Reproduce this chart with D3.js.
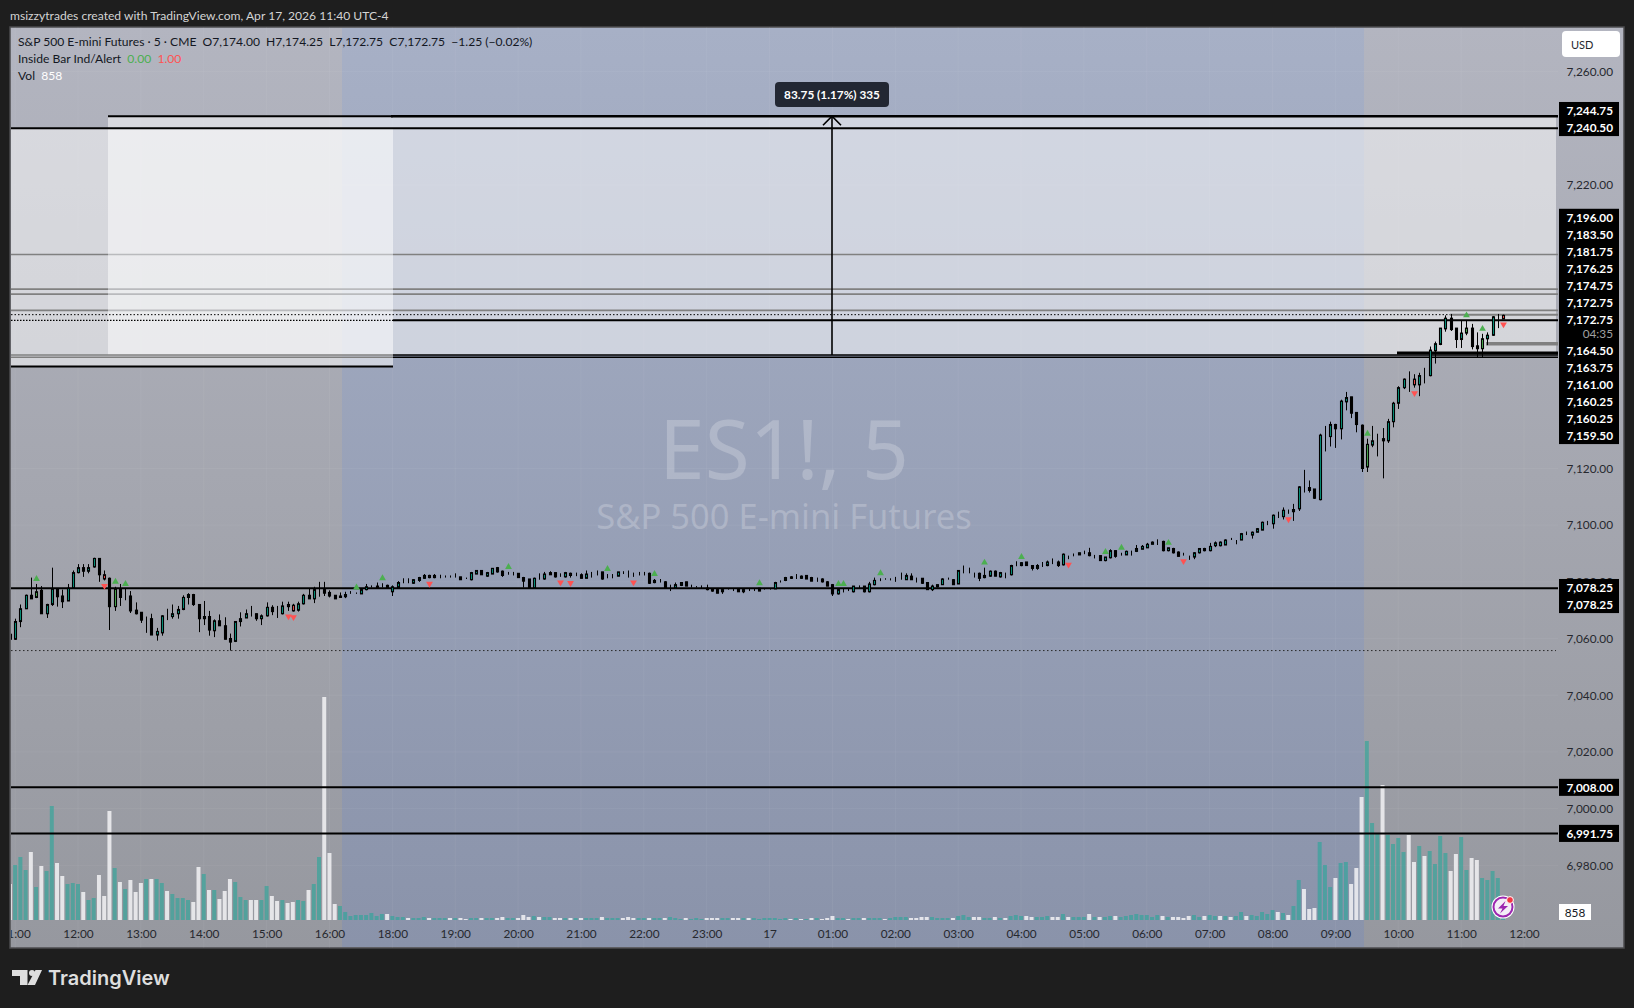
<!DOCTYPE html>
<html>
<head>
<meta charset="utf-8">
<title>ES1! 5</title>
<script src="https://cdn.jsdelivr.net/npm/d3@7"></script>
<style>
  html, body { margin: 0; padding: 0; background: #1e1e1e; overflow: hidden; }
  svg { display: block; font-family: Lato, sans-serif; }
</style>
</head>
<body>
<div id="chart"></div>
<script>
// bars run from 11:00 + 5min to 11:40 next day, one every 5 minutes
const firstBar = -13; // index of first bar, 0 is the 12:00 bar

const opens = [
  7061.5,7059.75,7066,7070.5,7075.25,7074.5,7077,7068.75,7072,7077.5,
  7075,7073.25,7077.75,7083.25,7085,7083.75,7085.25,7088.25,7081,7081.25,
  7071.25,7077.5,7074.75,7075,7070,7069.25,7067.25,7067,7061.25,7062,
  7067.75,7067.75,7068.75,7070.25,7074.5,7075.5,7072,7067,7067.75,7062.75,
  7066.25,7064.5,7060,7059,7066,7067.25,7068.75,7068.75,7067,7068,
  7071,7069.5,7068.75,7071.25,7069.75,7070,7072.25,7075.25,7074,7077.25,
  7077.25,7076.25,7075.25,7075,7074.75,7075.75,7076,7075.75,7077.25,7078.25,
  7078.5,7078.75,7078.75,7076.5,7078,7079.75,7080.25,7079.5,7080.5,7081.25,
  7081.5,7081.5,7082,7081.75,7081.75,7082,7081.75,7081.25,7080.75,7082.75,
  7084,7082,7082.75,7085,7083.75,7082.5,7083,7083,7081.5,7081,
  7077.75,7081.75,7081,7083.25,7083.25,7082,7081.75,7082.25,7082.5,7082.5,
  7081.25,7082.75,7083.25,7083.5,7082,7082,7082,7083.25,7083,7082.5,
  7083,7082.75,7083,7079.75,7080.25,7080,7077.75,7077.75,7078.75,7080,
  7078.25,7078.25,7077.75,7077.75,7077.5,7077.25,7076.5,7077.5,7077.25,7077.5,
  7076.5,7077,7077.25,7077.75,7077.5,7077.25,7077.5,7080.5,7080.5,7081.75,
  7081.75,7081.25,7082.25,7081.5,7080.75,7081,7080,7079,7075.75,7077,
  7077.25,7076.5,7078.25,7078.5,7076.5,7079,7080.75,7081,7080.75,7080.75,
  7081,7080.75,7082,7081.5,7081.25,7079.75,7077.25,7078.25,7079,7081,
  7080.75,7079.25,7083.5,7083.5,7083.25,7083,7081.5,7082,7083.75,7081.75,
  7083.25,7082.5,7085.75,7085.75,7087,7085.75,7084.75,7085.75,7085.75,7087,
  7087,7086,7089.25,7089.5,7089.5,7090.25,7090.25,7089,7089.25,7087.5,
  7088.5,7091,7089.75,7089.5,7091,7090.75,7091.5,7092,7093.25,7094,
  7094.25,7091,7091.75,7090.5,7089.75,7089.25,7088.75,7090.25,7091.75,7091,
  7092.75,7092.75,7093,7095,7094.75,7094.75,7097.25,7096.5,7097.5,7098.25,
  7101,7100.5,7103,7103,7105,7104.75,7105.75,7113.5,7113.25,7112.75,
  7109,7131.5,7131.25,7135.5,7134,7143.5,7145.25,7139.75,7135.25,7120.5,
  7128.25,7130,7130.5,7129.75,7136.5,7143,7148.5,7151.5,7149.5,7149.5,
  7153,7152.75,7161.5,7163.75,7169.25,7173,7169.5,7165.5,7167.75,7169.5,
  7163.25,7162.25,7165.75,7167,7173.5,7174
];
const highs = [
  7061.5,7067,7072,7075.5,7081.5,7079.25,7078.5,7072.25,7085,7077.5,
  7077.25,7079.25,7084,7086.25,7086.25,7086.25,7088.5,7088.25,7084,7081.5,
  7078.25,7079.25,7077.5,7076.75,7072.75,7069.25,7067.75,7068.75,7063.75,7068.25,
  7070.5,7072,7071.5,7075.25,7076,7075.75,7072,7073.25,7069.75,7066.75,
  7068.5,7067.5,7061.75,7066,7069.25,7070.25,7071.5,7068.75,7068.5,7072.75,
  7071.75,7071.5,7073,7073,7072.25,7073,7075.75,7077.5,7078.25,7080,
  7080,7077,7075.25,7076.25,7076.5,7076.75,7076.25,7077.5,7079.25,7078.75,
  7079.75,7079.5,7079,7078.75,7080.25,7081.25,7081.25,7081,7081.75,7082.75,
  7082.5,7082.75,7082.5,7082.25,7082.25,7083,7081.75,7081.5,7083.5,7084,
  7084,7083.5,7084.75,7085.25,7084,7083.5,7083.5,7083,7081.75,7081,
  7081.5,7083,7083.5,7083.75,7083.25,7083,7083.5,7083.25,7083.25,7083,
  7084,7083.5,7084,7083.5,7082.75,7082.75,7083.5,7083.75,7084,7083.25,
  7083.5,7083.5,7083.25,7081,7081,7080.25,7079,7079.75,7079.75,7080,
  7079,7078.5,7078.75,7079,7077.75,7077.25,7077.75,7077.75,7077.75,7077.75,
  7077.5,7077.75,7077.75,7077.75,7077.5,7077.5,7080,7080.5,7081.75,7082,
  7082.75,7082.25,7082.25,7081.75,7081.5,7081.25,7080.25,7079.25,7077.5,7077.5,
  7077.5,7078.5,7078.75,7078.5,7080,7081.5,7081.25,7081.25,7081.25,7081.75,
  7083.25,7083,7083,7081.5,7081.25,7079.75,7079,7079,7081.25,7081.5,
  7081,7084,7085.75,7085,7083.25,7083.25,7085,7084,7084,7083.5,
  7083.25,7086,7087.25,7087,7087,7085.75,7086.25,7087,7087.5,7088.25,
  7087.5,7090,7089.25,7090,7090.25,7091,7092,7089.5,7089.25,7088.75,
  7091.5,7091,7090.25,7091,7091,7093,7093,7093.75,7094.25,7095,
  7094.5,7092,7092,7090.75,7090.25,7089.25,7090.5,7091.75,7092,7093.75,
  7094.25,7094.25,7095,7095.5,7094.75,7097.25,7097.75,7097.75,7099,7101.25,
  7101.5,7103.75,7104.75,7106.25,7105.5,7107.5,7113.75,7119.5,7115.75,7112.75,
  7132.25,7135,7136.5,7135.75,7144.25,7147,7145.25,7139.75,7135.5,7130.5,
  7135,7132.25,7134.25,7137.5,7143.5,7149,7151.75,7154.25,7153.25,7153.75,
  7155.5,7163,7164.75,7169.5,7174,7174.5,7169.5,7172.25,7172.25,7171,
  7168,7167.5,7168,7173.75,7174.5,7174.25
];
const lows = [
  7056.5,7059.5,7064,7070.5,7074,7074.25,7068.75,7067.25,7071.5,7071.25,
  7070.75,7073.25,7077.75,7083,7081.75,7083,7085,7080,7080.5,7063,
  7069.75,7071.5,7073.5,7069,7068.5,7065.5,7062,7061.25,7059.25,7061,
  7066.5,7067,7067,7070,7072,7071.5,7062.25,7064.75,7061,7060.5,
  7064.5,7059.75,7055.75,7058.75,7064.25,7067.25,7067.75,7066.25,7064.75,7067.75,
  7068.25,7067.25,7068.5,7069.75,7069.5,7069.5,7072,7074,7072.5,7074.75,
  7075,7074.5,7074,7074.5,7074.25,7075.75,7075.75,7075.75,7077,7078,
  7078,7078,7077.75,7075,7078,7079.5,7079.5,7079.25,7080,7081,
  7081.25,7081.25,7081.25,7081.5,7081.5,7081.5,7080.75,7081,7080.5,7082.75,
  7082.5,7081.75,7082.75,7083.25,7081.75,7082.5,7082.25,7081.5,7078,7077.75,
  7077.75,7080.75,7080.75,7082.5,7081.5,7081.75,7081.5,7081.5,7082,7081.25,
  7081.25,7081.5,7082.25,7080.75,7081.25,7081.25,7082,7082.75,7081.5,7081.75,
  7082.25,7082.25,7079.25,7079.5,7079.75,7077.75,7076.75,7077.75,7078.5,7078.5,
  7078,7078,7077.75,7077,7076.5,7076,7075.75,7077.25,7076.75,7076.5,
  7076,7076.75,7076.75,7076.75,7077.25,7077.25,7077.5,7079.75,7080.25,7081,
  7081,7081,7081,7080.25,7080,7079.75,7078.5,7075,7075.5,7076.25,
  7076.75,7076.25,7077.75,7076.25,7076.25,7078.75,7080.25,7080.75,7080.5,7080,
  7080.75,7080.75,7080.75,7079.75,7079.25,7077.25,7076.75,7078,7079,7080.75,
  7079,7079.25,7083,7083,7081.5,7080.25,7081.25,7081.75,7082,7081.5,
  7081.25,7082.25,7085.5,7085.5,7085.75,7084,7084.25,7085.25,7085.5,7086.25,
  7085.25,7085.75,7088,7089,7089.5,7089.75,7089,7088.25,7087.5,7087.25,
  7088.25,7088.5,7089.25,7089.5,7089.25,7090.5,7091.5,7092,7093.25,7093,
  7090.75,7090.75,7090,7089,7089.25,7087.75,7088,7090,7090.75,7090.75,
  7092.25,7092.5,7093,7094.75,7093.25,7094.75,7096.5,7095.25,7097.5,7098.25,
  7100,7098.75,7102.5,7102,7104,7101.5,7105,7111.5,7111.5,7109.25,
  7108.75,7126,7127.75,7127.25,7130.25,7140.5,7137.75,7132.75,7118.75,7118.75,
  7127.5,7124.25,7116.5,7129,7134.5,7141,7148,7147,7148.5,7145.5,
  7150,7152.5,7157,7163.5,7168.25,7168.5,7162.5,7162.5,7167,7162,
  7159,7159.25,7163.5,7166.75,7169.5,7172.75
];
const closes = [
  7059.75,7066,7070.5,7075.25,7074,7076.5,7068.75,7072,7077.5,7074.75,
  7073,7077.75,7083.25,7085,7083.75,7085,7088.25,7082.5,7082.5,7071.25,
  7077.5,7074.5,7074.75,7069.75,7068.75,7066.5,7067.25,7061.25,7062.5,7068,
  7067.75,7068.75,7070.25,7074.5,7075.5,7072,7067,7067.75,7063,7066.25,
  7064.5,7059.75,7058.75,7066,7067,7068.75,7068.75,7067,7068,7071,
  7069.5,7069.5,7071.5,7072,7071.75,7072.25,7075.25,7074,7077.25,7077.25,
  7076,7075,7074,7074.5,7075.5,7075.75,7076,7077.25,7078.25,7078.25,
  7078,7078.75,7078,7078.25,7079.75,7079.75,7080.25,7080.75,7081.5,7082.25,
  7082.25,7082.25,7082,7081.75,7081.75,7082,7080.75,7081.25,7083.25,7084,
  7082.5,7083.25,7084.75,7083.5,7082.25,7082.5,7083,7081.5,7080.25,7077.75,
  7081.25,7081.75,7082.75,7082.5,7081.75,7082,7083.25,7083,7082.5,7081.25,
  7082.75,7082.75,7083.25,7081,7082,7082,7083.5,7083.25,7083,7082.5,
  7083,7082.75,7079.5,7080.5,7080.25,7078,7077.75,7079,7079.75,7078.5,
  7078.25,7078.25,7077.75,7077.25,7076.75,7076,7077.25,7077.5,7077.25,7076.5,
  7077.25,7077,7077.25,7076.75,7077.5,7077.25,7079.75,7080.5,7081.5,7081.25,
  7081.75,7082,7081,7080.25,7080.75,7080,7078.5,7075.75,7077.25,7077,
  7077.25,7078.5,7078.25,7076.5,7079.25,7080.5,7080.75,7081,7080.75,7080.75,
  7081,7082.25,7080.75,7081.5,7079.5,7077.25,7078.5,7079,7081,7081,
  7079,7084,7083.5,7083.5,7083.25,7081.25,7082.25,7083.75,7082,7083.25,
  7083.25,7085.75,7085.75,7086.75,7085.75,7084.75,7085.75,7085.75,7087,7087,
  7085.75,7089.75,7089.25,7089.5,7090.25,7090.25,7089.25,7089,7087.5,7088.75,
  7091,7089,7089.75,7090.75,7091,7091.75,7092.5,7093.25,7094,7094,
  7091,7092,7090.25,7089,7089.75,7089.25,7090.25,7091.75,7091,7092.5,
  7093.75,7094,7094.75,7095,7094.75,7097,7097.25,7097.5,7098.75,7101,
  7101,7103.5,7103,7105.25,7105,7105.5,7113.5,7113.5,7112.25,7109.5,
  7131.75,7131.5,7135.5,7134,7143.75,7145,7139.5,7135.5,7120,7128.5,
  7129.75,7130,7129.75,7136.5,7143,7148.5,7151.5,7151.5,7151.5,7152.75,
  7153,7161.75,7164,7169.5,7173,7169,7165.5,7167.75,7169.5,7163,
  7162.25,7165.75,7167,7173.5,7173.5,7172.75
];
const volumes = [
  3600,5500,6300,5000,6800,3300,5400,4900,11400,5700,
  4400,3600,3700,3600,2800,2000,2200,4500,2400,10900,
  5200,3800,3100,4000,2800,3700,4100,4100,4100,3700,
  2900,2600,2200,2200,2000,1800,5300,4600,3000,3000,
  2100,2900,4100,3800,2300,2000,2000,2000,2000,3400,
  2400,1900,2000,1700,1800,2000,1900,3000,3600,6300,
  22300,6700,1600,1400,800,400,500,500,500,700,
  400,600,600,400,300,300,200,200,200,300,
  200,200,200,200,200,200,200,100,200,200,
  200,200,200,200,300,200,200,200,500,300,
  400,300,300,300,200,200,200,200,200,200,
  200,200,200,300,200,200,200,200,300,200,
  200,200,200,200,200,200,300,200,100,200,
  100,200,100,200,200,200,200,200,200,200,
  200,200,200,100,200,200,200,100,200,100,
  200,100,100,200,200,100,200,400,200,200,
  100,200,200,200,200,200,200,100,200,300,
  300,300,200,200,300,300,300,200,200,200,
  200,400,500,300,300,300,200,200,300,200,
  200,400,500,400,400,300,300,300,400,300,
  300,600,300,300,300,300,600,300,300,300,
  400,400,300,400,500,600,500,500,300,500,
  400,300,300,300,200,400,500,300,400,500,
  400,400,400,300,400,800,400,500,400,800,
  600,1000,800,700,500,1400,4000,3100,1100,1200,
  7800,5500,3300,4200,5700,5800,3600,5200,12300,17900,
  9700,8700,13500,8500,7600,8200,6800,8500,5800,7400,
  6400,6900,5600,8400,6700,4900,6600,8300,5000,6200,
  6000,4200,4000,4900,4200,858
];
// u = teal volume bar, d = white volume bar
const volumeSides = [
  "duuududuud","duuuduuddd","ududdduduu","duuuuddudu","ddduuudduu","ddudduuduu",
  "ddduuuuuuu","uuduuuduuu","duuududduu","duudduuddd","uduuddudud","uuuduuuddd",
  "uuduuduuud","uuuddduudd","uduuuuuuud","udududdduu","duuduuuduu","uudddduuuu",
  "duuudduudu","duuudduuud","duduuududu","uduuuuuuuu","dudddduudu","ududuuduuu",
  "uududuuddd","uuuduudddu","uuduuuuddu","duuuudduud","duuuuu"
].join("");

// bar colour overrides from the Inside Bar indicator
const limeBars = [-8, 7, 246, 265, 268];
const redBars = [5, 40, 41, 67, 94, 255, 272];
const insideUp = [-8, 7, 9, 53, 58, 82, 101, 110, 130, 145, 146, 153, 173, 180, 196, 199, 208, 246, 265, 268];
const insideDown = [5, 40, 41, 67, 92, 94, 106, 189, 211, 231, 255, 272];

const priceTicks = [7260, 7220, 7120, 7100, 7080, 7060, 7040, 7020, 7000, 6980];
const timeTicks = [-12, 0, 12, 24, 36, 48, 60, 72, 84, 96, 108, 120, 132, 144, 156, 168, 180, 192, 204, 216, 228, 240, 252, 264, 276];
const timeLabels = ["11:00", "12:00", "13:00", "14:00", "15:00", "16:00", "18:00", "19:00", "20:00", "21:00", "22:00", "23:00", "17",
  "01:00", "02:00", "03:00", "04:00", "05:00", "06:00", "07:00", "08:00", "09:00", "10:00", "11:00", "12:00"];

// drawn levels
const blackLevels = [7240, 7077.75, 7007.5, 6991.25];
const grayLevels = [7195.5, 7183.25, 7181.5, 7175.75, 7160, 7159.25];
const dottedLevels = [7174.25, 7055.75];
const zoneLow = 7156;
const zoneHigh = 7244.25;
const currentLevel = 7172.25;
const swingLevel = 7160.75;
const gapLevel = 7164;
const rangeLow = 7160;

const upperLabels = ["7,244.75", "7,240.50"];
const midLabels = ["7,196.00", "7,183.50", "7,181.75", "7,176.25", "7,174.75", "7,172.75", "7,172.75"];
const lowerLabels = ["7,164.50", "7,163.75", "7,161.00", "7,160.25", "7,160.25", "7,159.50"];
const lowLabels = ["7,078.25", "7,078.25"];
const singleLabels = [["7,008.00", 7007.5], ["6,991.75", 6991.25]];

const width = 1634;
const height = 1008;
const paneLeft = 10;
const paneRight = 1624;
const paneTop = 27;
const paneBottom = 948;
const plotRight = 1558;
const axisText = 1613;
const volumeBase = 920;
const blueStart = 342;
const blueEnd = 1364;
const zoneLeft = 108;
const zoneMid = 393;
const legendSize = 12.1;
const axisSize = 11.8;

const xScale = d3.scaleLinear().domain([0, 276]).range([78, 1524]);
const yScale = d3.scaleLinear().domain([7260, 6980]).range([71.6, 865.3]);
const volScale = d3.scaleLinear().domain([0, 22300]).range([volumeBase, 697]);
const priceFormat = d3.format(",.2f");

const svg = d3.select("#chart").append("svg")
  .attr("width", width)
  .attr("height", height);

const defs = svg.append("defs");

function addGradient(id, top, bottom) {
  const grad = defs.append("linearGradient")
    .attr("id", id)
    .attr("x1", 0).attr("x2", 0).attr("y1", 0).attr("y2", 1);
  grad.append("stop").attr("offset", "0%").attr("stop-color", top);
  grad.append("stop").attr("offset", "100%").attr("stop-color", bottom);
}
addGradient("grayBg", "#b3b5c0", "#96989f");
addGradient("blueBg", "#a7b0c6", "#8a93aa");

defs.append("clipPath").attr("id", "plotClip").append("rect")
  .attr("x", paneLeft + 1).attr("y", paneTop)
  .attr("width", plotRight - paneLeft - 1).attr("height", paneBottom - paneTop);
defs.append("clipPath").attr("id", "paneClip").append("rect")
  .attr("x", paneLeft + 1).attr("y", paneTop)
  .attr("width", paneRight - paneLeft - 1).attr("height", paneBottom - paneTop);

svg.append("rect").attr("width", width).attr("height", height).attr("fill", "#1e1e1e");

svg.append("text")
  .attr("x", 10).attr("y", 19.5)
  .attr("font-size", legendSize)
  .attr("fill", "#d4d4d4")
  .text("msizzytrades created with TradingView.com, Apr 17, 2026 11:40 UTC-4");

// pane and session background
svg.append("rect")
  .attr("x", paneLeft).attr("y", paneTop)
  .attr("width", paneRight - paneLeft).attr("height", paneBottom - paneTop)
  .attr("fill", "url(#grayBg)")
  .attr("stroke", "#4c4c4f")
  .attr("stroke-width", 1.5);
svg.append("rect")
  .attr("x", blueStart).attr("y", paneTop + 1)
  .attr("width", blueEnd - blueStart).attr("height", paneBottom - paneTop - 2)
  .attr("fill", "url(#blueBg)");

// grid
const grid = svg.append("g").attr("clip-path", "url(#plotClip)")
  .attr("stroke", "#ffffff").attr("stroke-opacity", 0.05);
grid.selectAll(".vgrid").data(timeTicks).join("line")
  .attr("x1", d => xScale(d)).attr("x2", d => xScale(d))
  .attr("y1", paneTop).attr("y2", paneBottom);
grid.selectAll(".hgrid").data(priceTicks).join("line")
  .attr("x1", paneLeft).attr("x2", plotRight)
  .attr("y1", d => yScale(d)).attr("y2", d => yScale(d));

// symbol watermark
svg.append("text")
  .attr("x", 784).attr("y", 479)
  .attr("text-anchor", "middle")
  .attr("font-family", "\"Noto Sans\", sans-serif")
  .attr("font-size", 82)
  .attr("fill", "#ffffff").attr("fill-opacity", 0.22)
  .text("ES1!, 5");
svg.append("text")
  .attr("x", 784).attr("y", 529)
  .attr("text-anchor", "middle")
  .attr("font-family", "\"Noto Sans\", sans-serif")
  .attr("font-size", 34.5)
  .attr("fill", "#ffffff").attr("fill-opacity", 0.22)
  .text("S&P 500 E-mini Futures");

// zones
svg.append("rect")
  .attr("x", paneLeft + 1).attr("width", zoneMid - paneLeft - 1)
  .attr("y", yScale(blackLevels[0])).attr("height", yScale(zoneLow) - yScale(blackLevels[0]))
  .attr("fill", "#ffffff").attr("fill-opacity", 0.5);
svg.append("rect")
  .attr("x", zoneLeft).attr("width", 1556 - zoneLeft)
  .attr("y", yScale(zoneHigh)).attr("height", yScale(rangeLow) - yScale(zoneHigh))
  .attr("fill", "#ffffff").attr("fill-opacity", 0.5);

function hLine(level, x1, x2, color, w, dash) {
  const line = svg.append("line")
    .attr("x1", x1).attr("x2", x2)
    .attr("y1", yScale(level)).attr("y2", yScale(level))
    .attr("stroke", color).attr("stroke-width", w);
  if (dash) line.attr("stroke-dasharray", dash);
  return line;
}

// gray levels go pale inside the doubled zone
grayLevels.forEach(level => {
  const isRange = level <= rangeLow;
  hLine(level, paneLeft + 1, zoneLeft, "#808080", 1.6);
  hLine(level, zoneLeft, zoneMid, isRange ? "#808080" : "#b9babd", 1.6);
  hLine(level, zoneMid, plotRight, isRange ? "#000000" : "#808080", 1.6);
});

// volume
const volBars = svg.append("g").attr("clip-path", "url(#plotClip)");
volBars.selectAll("rect").data(volumes).join("rect")
  .attr("x", (d, i) => xScale(i + firstBar) - 2)
  .attr("width", 4)
  .attr("y", d => volScale(d))
  .attr("height", d => volumeBase - volScale(d))
  .attr("fill", (d, i) => volumeSides[i] == "u" ? "#26a69a" : "#f2f2f4")
  .attr("fill-opacity", (d, i) => volumeSides[i] == "u" ? 0.6 : 0.85);

// levels
blackLevels.forEach(level => hLine(level, paneLeft + 1, plotRight, "#000000", 2));
hLine(zoneHigh, zoneLeft, zoneMid, "#000000", 1.8);
hLine(zoneHigh, zoneMid - 2, plotRight, "#000000", 2.6);
hLine(zoneLow, paneLeft + 1, zoneMid, "#000000", 2);
hLine(currentLevel, paneLeft + 1, zoneMid, "#000000", 1.2, "1.5 1.5");
hLine(currentLevel, zoneMid, plotRight, "#000000", 2);
hLine(dottedLevels[0], paneLeft + 1, 1450, "#000000", 1, "1.5 2");
hLine(dottedLevels[0], 1450, plotRight, "#808080", 2);
hLine(dottedLevels[1], paneLeft + 1, plotRight - 2, "#2a2a2a", 1, "1.5 2.5");
hLine(swingLevel, 1397, plotRight, "#000000", 3);
hLine(gapLevel, 1486, plotRight, "#808080", 3.5);

// measure tool
const measureX = 832;
svg.append("line")
  .attr("x1", measureX).attr("x2", measureX)
  .attr("y1", yScale(rangeLow)).attr("y2", yScale(zoneHigh))
  .attr("stroke", "#000000").attr("stroke-width", 1.6);
svg.append("path")
  .attr("d", d3.line()([[measureX - 9, yScale(zoneHigh) + 9], [measureX, yScale(zoneHigh)], [measureX + 9, yScale(zoneHigh) + 9]]))
  .attr("fill", "none").attr("stroke", "#000000").attr("stroke-width", 1.6);
svg.append("rect")
  .attr("x", 775).attr("y", 82).attr("width", 114).attr("height", 25).attr("rx", 4)
  .attr("fill", "#222733");
svg.append("text")
  .attr("x", 832).attr("y", 98.5)
  .attr("text-anchor", "middle")
  .attr("font-size", 11.8).attr("font-weight", 700)
  .attr("fill", "#ffffff")
  .text("83.75 (1.17%) 335");

// candles
const candles = svg.append("g").attr("clip-path", "url(#plotClip)");
const bars = opens.map((o, i) => ({
  idx: i + firstBar, open: o, high: highs[i], low: lows[i], close: closes[i]
}));
const snap = d => Math.round(xScale(d)) + 0.5;

candles.selectAll(".wick").data(bars).join("line")
  .attr("x1", d => snap(d.idx)).attr("x2", d => snap(d.idx))
  .attr("y1", d => yScale(d.high)).attr("y2", d => yScale(d.low))
  .attr("stroke", "#000000").attr("stroke-width", 1);

function bodyFill(d) {
  if (limeBars.includes(d.idx)) return "#4caf50";
  if (redBars.includes(d.idx)) return "#ff5252";
  return d.close > d.open ? "#089981" : "#000000";
}
candles.selectAll(".body").data(bars).join("rect")
  .attr("x", d => snap(d.idx) - 1)
  .attr("width", 2)
  .attr("y", d => yScale(Math.max(d.open, d.close)))
  .attr("height", d => Math.abs(yScale(d.open) - yScale(d.close)))
  .attr("fill", bodyFill)
  .attr("stroke", "#000000")
  .attr("stroke-width", 1.1);

// inside bar markers
const barByIdx = new Map(bars.map(d => [d.idx, d]));
const upMark = d3.symbol().type(d3.symbolTriangle).size(20);
candles.selectAll(".markUp").data(insideUp).join("path")
  .attr("d", upMark)
  .attr("transform", d => `translate(${snap(d)},${yScale(barByIdx.get(d).high) - 5})`)
  .attr("fill", "#4caf50");
candles.selectAll(".markDown").data(insideDown).join("path")
  .attr("d", upMark)
  .attr("transform", d => `translate(${snap(d)},${yScale(barByIdx.get(d).low) + 5.5}) rotate(180)`)
  .attr("fill", "#ff5252");

// price axis
const priceAxis = svg.append("g")
  .attr("transform", `translate(${axisText},0)`)
  .call(d3.axisRight(yScale).tickValues(priceTicks).tickFormat(priceFormat).tickSize(0).tickPadding(0));
priceAxis.select(".domain").remove();
priceAxis.selectAll("text")
  .attr("text-anchor", "end")
  .attr("font-family", "Lato, sans-serif")
  .attr("font-size", axisSize)
  .attr("fill", "#26282e");

// time axis
const timeAxis = svg.append("g")
  .attr("clip-path", "url(#paneClip)")
  .append("g")
  .attr("transform", `translate(0,${volumeBase})`)
  .call(d3.axisBottom(xScale).tickValues(timeTicks)
    .tickFormat((d, i) => timeLabels[i]).tickSize(0).tickPadding(10));
timeAxis.select(".domain").remove();
timeAxis.selectAll("text")
  .attr("font-family", "Lato, sans-serif")
  .attr("font-size", axisSize)
  .attr("fill", "#26282e");

// stacked price labels
const rowHeight = 17.05;
function labelStack(labels, centerFirst) {
  svg.append("rect")
    .attr("x", 1559).attr("width", 60)
    .attr("y", centerFirst - rowHeight / 2)
    .attr("height", rowHeight * labels.length)
    .attr("fill", "#000000");
  svg.append("g").selectAll("text").data(labels).join("text")
    .attr("x", axisText)
    .attr("y", (d, i) => centerFirst + i * rowHeight + 4.5)
    .attr("text-anchor", "end")
    .attr("font-size", axisSize).attr("font-weight", 700)
    .attr("fill", "#ffffff")
    .text(d => d);
}
labelStack(upperLabels, 110.5);
labelStack(midLabels, 217.3);
svg.append("rect").attr("x", 1559).attr("width", 60).attr("y", 328).attr("height", 14).attr("fill", "#000000");
svg.append("text")
  .attr("x", axisText).attr("y", 338)
  .attr("text-anchor", "end")
  .attr("font-size", axisSize).attr("fill", "#a0a0a0")
  .text("04:35");
labelStack(lowerLabels, 350.3);
labelStack(lowLabels, 587.5);
singleLabels.forEach(d => labelStack([d[0]], yScale(d[1])));

// current volume label
svg.append("rect")
  .attr("x", 1559).attr("y", 904).attr("width", 32).attr("height", 16)
  .attr("fill", "#ffffff");
svg.append("text")
  .attr("x", 1575).attr("y", 916.5)
  .attr("text-anchor", "middle")
  .attr("font-size", axisSize).attr("fill", "#131722")
  .text(d3.format("d")(volumes[volumes.length - 1]));

// currency button
svg.append("rect")
  .attr("x", 1562).attr("y", 31).attr("width", 58).attr("height", 26).attr("rx", 4)
  .attr("fill", "#ffffff");
svg.append("text")
  .attr("x", 1571).attr("y", 48.5)
  .attr("font-size", 11).attr("fill", "#26282e")
  .text("USD");

// legend
const legend = svg.append("g").attr("font-size", legendSize).attr("fill", "#131722");
legend.append("text").attr("x", 18).attr("y", 46)
  .attr("xml:space", "preserve")
  .text("S&P 500 E-mini Futures · 5 · CME  O7,174.00  H7,174.25  L7,172.75  C7,172.75  −1.25 (−0.02%)");
const line2 = legend.append("text").attr("x", 18).attr("y", 63).attr("xml:space", "preserve");
line2.append("tspan").text("Inside Bar Ind/Alert  ");
line2.append("tspan").attr("fill", "#4caf50").text("0.00");
line2.append("tspan").text("  ");
line2.append("tspan").attr("fill", "#ff5252").text("1.00");
const line3 = legend.append("text").attr("x", 18).attr("y", 80).attr("xml:space", "preserve");
line3.append("tspan").text("Vol  ");
line3.append("tspan").attr("fill", "#ffffff").text(d3.format("d")(volumes[volumes.length - 1]));

// notification badge
const badge = svg.append("g").attr("transform", "translate(1503,907)");
badge.append("circle").attr("r", 11.5).attr("fill", "#ffffff");
badge.append("circle").attr("r", 9.5).attr("fill", "#f4eef7").attr("stroke", "#9c27b0").attr("stroke-width", 2);
badge.append("path").attr("d", "M2.5,-6 L-5,1.5 L-0.5,1.5 L-3,6.5 L5,-1 L0.5,-1 Z").attr("fill", "#9c27b0");
badge.append("circle").attr("cx", 7).attr("cy", -7).attr("r", 3.4).attr("fill", "#f23645").attr("stroke", "#ffffff").attr("stroke-width", 1);

// footer logo
const logo = svg.append("g").attr("fill", "#dedede");
logo.append("path").attr("d", "M12,970 H27.5 V985 H20 V976 H12 Z");
logo.append("circle").attr("cx", 32).attr("cy", 973).attr("r", 3);
logo.append("path").attr("d", "M35.5,970 H42 L35,985 H27.5 Z");
svg.append("text")
  .attr("x", 48).attr("y", 985)
  .attr("font-family", "Inter, sans-serif")
  .attr("font-size", 20).attr("font-weight", 600)
  .attr("fill", "#dedede")
  .text("TradingView");
</script>
</body>
</html>
